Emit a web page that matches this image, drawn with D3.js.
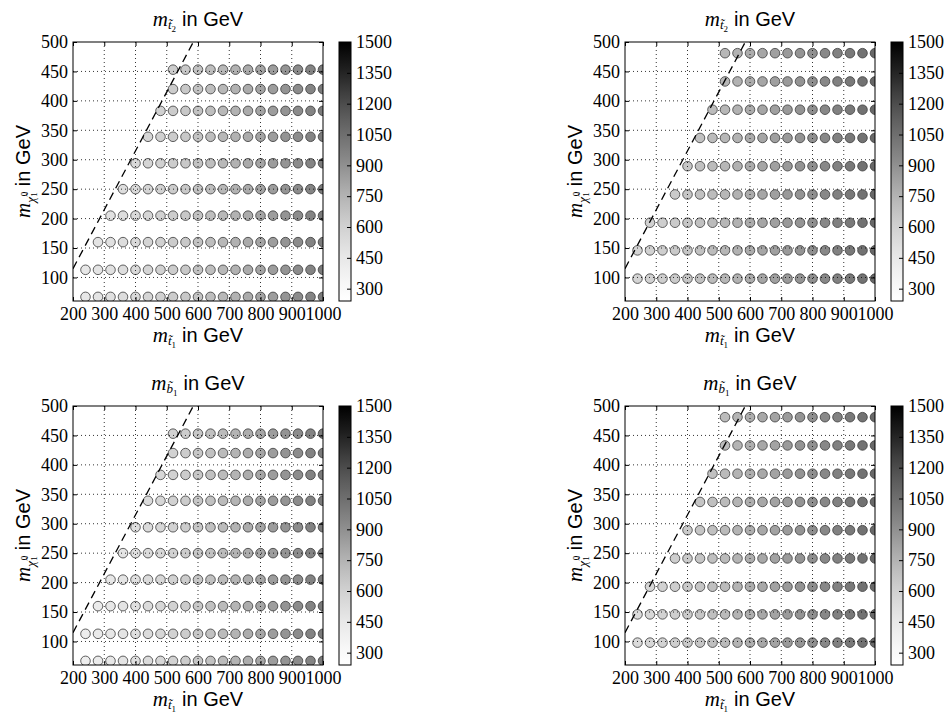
<!DOCTYPE html>
<html>
<head>
<meta charset="utf-8">
<script src="https://cdn.jsdelivr.net/npm/d3@7"></script>
<style>
  body { margin: 0; background: #fff; }
  svg { display: block; }
</style>
</head>
<body>
<svg id="fig" width="947" height="715"></svg>
<script>
// ---------------- data ----------------
// lighter stop mass columns of the scan (GeV)
const stopMass = [240, 280, 320, 360, 400, 440, 480, 520, 560, 600,
                  640, 680, 720, 760, 800, 840, 880, 920, 960, 1000];

// scan A (left column of panels): neutralino mass of each row and first stop mass of that row
const neutralinoA = [67, 113, 160, 205, 250, 294, 339, 383, 420, 453];
const firstStopA  = [240, 240, 280, 320, 360, 400, 440, 480, 520, 520];

// scan B (right column of panels)
const neutralinoB = [98, 146, 193, 241, 289, 337, 385, 433, 481];
const firstStopB  = [240, 240, 280, 360, 400, 440, 480, 520, 520];

// heavier stop mass along the stop mass columns (GeV)
const stop2A = [455, 480, 500, 525, 550, 575, 600, 625, 650, 675,
                700, 725, 755, 785, 815, 845, 880, 915, 950, 990];
const stop2B = [580, 600, 615, 640, 660, 685, 710, 730, 755, 780,
                805, 830, 855, 880, 905, 935, 965, 1000, 1035, 1080];

// lighter sbottom mass along the stop mass columns (GeV)
const sbottom1A = [400, 430, 455, 480, 510, 540, 565, 595, 625, 655,
                   685, 715, 745, 775, 810, 845, 880, 915, 955, 995];
const sbottom1B = [540, 565, 590, 615, 640, 665, 690, 715, 745, 770,
                   795, 820, 850, 880, 905, 935, 965, 1000, 1035, 1075];

// kinematic threshold m_stop = m_neutralino + m_W + m_b
const thresholdLine = [[200, 115], [585, 500]];

// axes
const xDomain = [200, 1000];
const yDomain = [60, 500];
const xTicks = [200, 300, 400, 500, 600, 700, 800, 900, 1000];
const yTicks = [100, 150, 200, 250, 300, 350, 400, 450, 500];
const colorDomain = [240, 1500];
const colorTicks = [300, 450, 600, 750, 900, 1050, 1200, 1350, 1500];

// ---------------- layout ----------------
const W = 250, H = 259;
const SERIF = "Liberation Serif, DejaVu Serif, serif";
const SANS = "Liberation Sans, Arial, sans-serif";
const fmt = d3.format("d");

const panels = [
  { left: 73,  top: 42,  letter: "t", index: "2", rows: neutralinoA, first: firstStopA, values: stop2A },
  { left: 625, top: 42,  letter: "t", index: "2", rows: neutralinoB, first: firstStopB, values: stop2B },
  { left: 73,  top: 406, letter: "b", index: "1", rows: neutralinoA, first: firstStopA, values: sbottom1A },
  { left: 625, top: 406, letter: "b", index: "1", rows: neutralinoB, first: firstStopB, values: sbottom1B }
];

const svg = d3.select("#fig");
const defs = svg.append("defs");
const color = d3.scaleSequential(d3.interpolateGreys).domain(colorDomain);

// colour bar gradient (bottom -> top)
const grad = defs.append("linearGradient").attr("id", "cbar")
  .attr("x1", 0).attr("y1", 1).attr("x2", 0).attr("y2", 0);
d3.range(0, 1.0001, 0.02).forEach(t => {
  grad.append("stop").attr("offset", t)
    .attr("stop-color", color(colorDomain[0] + t * (colorDomain[1] - colorDomain[0])));
});

// text with math-style sub/superscripts
function mathText(sel, parts) {
  parts.forEach(p => {
    const ts = sel.append("tspan")
      .style("font-family", p.sans ? SANS : SERIF)
      .style("font-size", p.size + "px")
      .style("font-style", p.italic ? "italic" : "normal")
      .text(p.t);
    if (p.dx) ts.attr("dx", p.dx);
    if (p.dy) ts.attr("dy", p.dy);
  });
}
function massParts(letter, index) {
  return [
    { t: "m", size: 21, italic: true },
    { t: letter + "\u0303", size: 13, italic: true, dy: 3 },
    { t: index, size: 9, dy: 3 },
    { t: "in GeV", size: 20, sans: true, dy: -6, dx: 6 }
  ];
}
const neutralinoParts = [
  { t: "m", size: 21, italic: true },
  { t: "\u03C7\u0303", size: 13, italic: true, dy: 5 },
  { t: "0", size: 9, dy: -8, dx: 1 },
  { t: "1", size: 9, dy: 10, dx: -5 },
  { t: "in GeV", size: 20, sans: true, dy: -7, dx: 6 }
];

panels.forEach((p, i) => {
  const g = svg.append("g").attr("transform", `translate(${p.left},${p.top})`);
  const x = d3.scaleLinear().domain(xDomain).range([0, W]);
  const y = d3.scaleLinear().domain(yDomain).range([H, 0]);

  const clipId = "clip" + i;
  defs.append("clipPath").attr("id", clipId)
    .append("rect").attr("width", W).attr("height", H);

  const plot = g.append("g").attr("clip-path", `url(#${clipId})`);

  // scan points
  const pts = [];
  p.rows.forEach((mchi, r) => {
    stopMass.forEach((mst, c) => {
      if (mst >= p.first[r]) pts.push({ mst, mchi, v: p.values[c] });
    });
  });
  plot.selectAll("circle").data(pts).join("circle")
    .attr("cx", d => x(d.mst)).attr("cy", d => y(d.mchi)).attr("r", 4.8)
    .attr("fill", d => color(d.v))
    .attr("stroke", "#3a3a3a").attr("stroke-width", 0.8);

  // threshold line
  plot.append("path")
    .attr("d", d3.line().x(d => x(d[0])).y(d => y(d[1]))(thresholdLine))
    .attr("fill", "none").attr("stroke", "#000").attr("stroke-width", 1.3)
    .attr("stroke-dasharray", "8,5");

  // dotted grid on top of points
  plot.selectAll("line.gx").data(xTicks.slice(1, -1)).join("line")
    .attr("x1", d => x(d)).attr("x2", d => x(d)).attr("y1", 0).attr("y2", H)
    .attr("stroke", "#000").attr("stroke-width", 0.8).attr("stroke-dasharray", "1,3");
  plot.selectAll("line.gy").data(yTicks.slice(0, -1)).join("line")
    .attr("y1", d => y(d)).attr("y2", d => y(d)).attr("x1", 0).attr("x2", W)
    .attr("stroke", "#000").attr("stroke-width", 0.8).attr("stroke-dasharray", "1,3");

  // axes with inward ticks on all four sides
  const styleAxis = a => {
    a.attr("font-family", null).attr("font-size", null);
    a.select(".domain").remove();
    a.selectAll(".tick line").attr("stroke", "#000").attr("stroke-width", 1);
    a.selectAll(".tick text")
      .style("font-family", SERIF)
      .style("font-size", "18px")
      .style("fill", "#000");
  };
  g.append("g").attr("transform", `translate(0,${H})`)
    .call(d3.axisBottom(x).tickValues(xTicks).tickFormat(fmt).tickSizeInner(-4).tickSizeOuter(0).tickPadding(6))
    .call(styleAxis);
  g.append("g")
    .call(d3.axisLeft(y).tickValues(yTicks).tickFormat(fmt).tickSizeInner(-4).tickSizeOuter(0).tickPadding(5))
    .call(styleAxis);
  g.append("g")
    .call(d3.axisTop(x).tickValues(xTicks).tickSizeInner(-4).tickSizeOuter(0).tickFormat(""))
    .call(styleAxis);
  g.append("g").attr("transform", `translate(${W},0)`)
    .call(d3.axisRight(y).tickValues(yTicks).tickSizeInner(-4).tickSizeOuter(0).tickFormat(""))
    .call(styleAxis);

  // frame
  g.append("rect").attr("width", W).attr("height", H)
    .attr("fill", "none").attr("stroke", "#000").attr("stroke-width", 1);

  // colour bar
  const cbX = W + 16, cbW = 12;
  const cy = d3.scaleLinear().domain(colorDomain).range([H, 0]);
  const cb = g.append("g").attr("transform", `translate(${cbX},0)`);
  cb.append("rect").attr("width", cbW).attr("height", H).attr("fill", "url(#cbar)");
  cb.append("g").attr("transform", `translate(${cbW},0)`)
    .call(d3.axisRight(cy).tickValues(colorTicks).tickFormat(fmt).tickSizeInner(-4).tickSizeOuter(0).tickPadding(5))
    .call(styleAxis);
  cb.append("rect").attr("width", cbW).attr("height", H)
    .attr("fill", "none").attr("stroke", "#000").attr("stroke-width", 1);

  // title
  g.append("text").attr("x", W / 2).attr("y", -16).attr("text-anchor", "middle")
    .call(s => mathText(s, massParts(p.letter, p.index)));
  // x label
  g.append("text").attr("x", W / 2).attr("y", H + 41).attr("text-anchor", "middle")
    .call(s => mathText(s, massParts("t", "1")));
  // y label
  g.append("text").attr("transform", `translate(-43,${H / 2}) rotate(-90)`)
    .attr("text-anchor", "middle")
    .call(s => mathText(s, neutralinoParts));
});
</script>
</body>
</html>
